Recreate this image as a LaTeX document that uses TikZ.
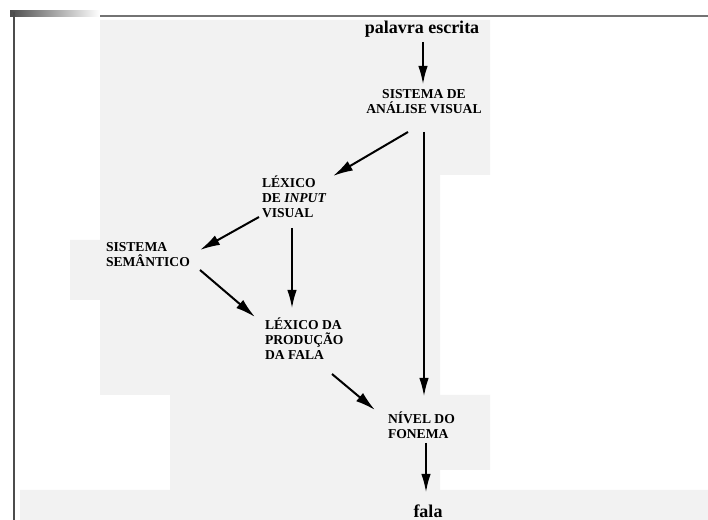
\documentclass[tikz,border=0pt]{standalone}
\usepackage{fontspec}
\setmainfont{Liberation Serif}
\usetikzlibrary{arrows.meta,calc}
\tikzset{
  lbl/.style={inner sep=0pt,outer sep=0pt,align=left,font=\fontsize{10.2}{11.3}\selectfont\bfseries},
  big/.style={inner sep=0pt,outer sep=0pt,font=\fontsize{13.5}{15}\selectfont\bfseries},
  varr/.style={line width=1pt,-{Latex[length=13.5pt,width=7pt]}},
  darr/.style={line width=1.5pt,-{Latex[length=15pt,width=8pt]}},
}
\begin{document}
\begin{tikzpicture}[x=0.75pt,y=-0.75pt]
\useasboundingbox (0,0) rectangle (708,520);
\fill[white] (0,0) rectangle (708,520);
% page tone (bleed-through)
\fill[black!5] (100,20) -- (490,20) -- (490,175) -- (440,175) -- (440,395) -- (490,395) -- (490,470) -- (440,470) -- (440,490) -- (708,490) -- (708,520) -- (20,520) -- (20,490) -- (170,490) -- (170,395) -- (100,395) -- (100,300) -- (70,300) -- (70,240) -- (100,240) -- cycle;
% scan borders
\shade[left color=black!70,right color=white] (10,11) rectangle (100,17);
\draw[black!55,line width=1.5pt] (100,16) -- (708,16);
\draw[black!70,line width=2.2pt] (14,12) -- (14,520);
% nodes
\node[big] (pe) at (422,29) {palavra escrita};
\node[lbl,align=center] (sav) at (424,101.5) {SISTEMA DE\\ANÁLISE VISUAL};
\node[lbl,anchor=west] (liv) at (262,197) {LÉXICO\\DE \textit{INPUT}\\VISUAL};
\node[lbl,anchor=west] (ss) at (106,254.5) {SISTEMA\\SEMÂNTICO};
\node[lbl,anchor=west] (lpf) at (265,339) {LÉXICO DA\\PRODUÇÃO\\DA FALA};
\node[lbl,anchor=west] (nf) at (388,425) {NÍVEL DO\\FONEMA};
\node[big] (fa) at (428,511) {fala};
% connectors
\draw[varr] ($(pe)+(1,13)$) -- ($(sav)+(-1,-17.5)$);
\draw[darr] ($(sav)+(-16,30.5)$) -- ($(liv.west)+(71,-21)$);
\draw[varr] ($(sav)+(0,30.5)$) -- ($(nf.west)+(36,-29)$);
\draw[darr] ($(liv.west)+(-3,20)$) -- ($(ss.west)+(94,-4.5)$);
\draw[varr] ($(liv.west)+(30,31)$) -- ($(lpf.west)+(27,-31)$);
\draw[darr] ($(ss.west)+(94,15.5)$) -- ($(lpf.west)+(-10,-22)$);
\draw[darr] ($(lpf.west)+(67,35)$) -- ($(nf.west)+(-13,-15)$);
\draw[varr] ($(nf.west)+(38,18)$) -- ($(fa)+(-2,-19)$);
\end{tikzpicture}
\end{document}
